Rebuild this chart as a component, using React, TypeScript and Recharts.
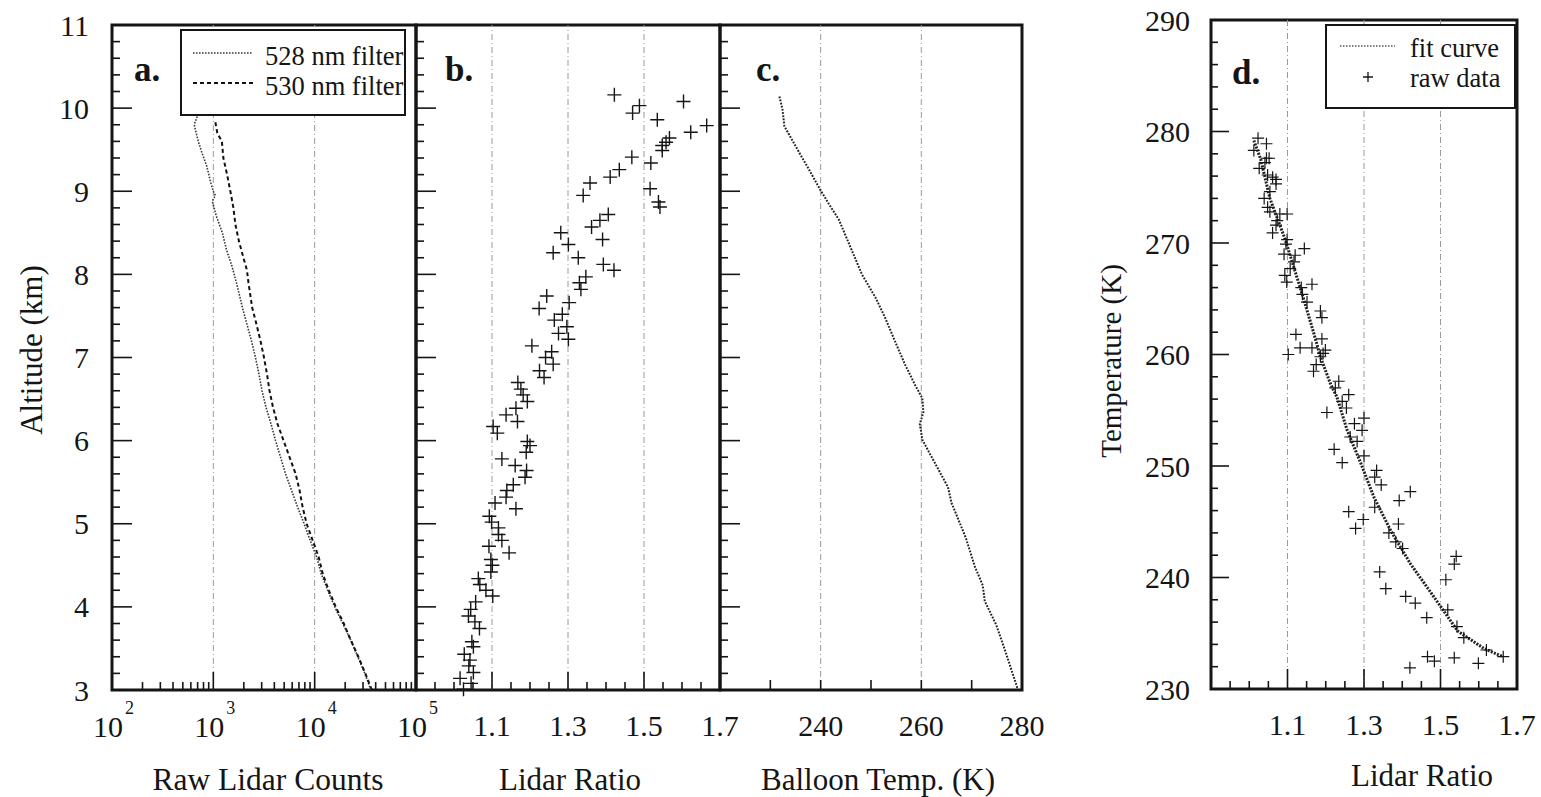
import React from 'react';
import { ScatterChart, Scatter, XAxis, YAxis, ReferenceLine, ReferenceArea, Legend } from 'recharts';

const W = 1541;
const H = 797;
const FONT = '"Liberation Serif", "DejaVu Serif", "Times New Roman", serif';
const INK = '#151515';

// ---------- Panel a: raw lidar counts vs altitude ----------
const alt528 = [9.9, 9.8, 9.6, 9.45, 9.3, 9.1, 9.0, 8.95, 8.88, 8.7, 8.5, 8.3, 8.1, 7.9, 7.6, 7.4, 7.2, 7.0, 6.8, 6.6, 6.4, 6.2, 6.0, 5.8, 5.6, 5.4, 5.2, 5.0, 4.8, 4.6, 4.4, 4.2, 4.0, 3.8, 3.6, 3.4, 3.2, 3.0];
const counts528 = [694, 648, 710, 778, 862, 945, 1000, 1047, 977, 1071, 1228, 1345, 1525, 1690, 1937, 2146, 2378, 2605, 2822, 3022, 3310, 3710, 4112, 4607, 5163, 5920, 6787, 7870, 9025, 10466, 11600, 13453, 15780, 18932, 22720, 26660, 31260, 35850];
const alt530 = [9.83, 9.7, 9.6, 9.4, 9.2, 9.0, 8.8, 8.6, 8.4, 8.2, 8.05, 7.9, 7.6, 7.4, 7.2, 7.0, 6.8, 6.6, 6.4, 6.2, 6.0, 5.8, 5.6, 5.4, 5.2, 5.0, 4.8, 4.6, 4.4, 4.2, 4.0, 3.8, 3.6, 3.4, 3.2, 3.0];
const counts530 = [1047, 1095, 1214, 1256, 1367, 1473, 1578, 1651, 1788, 1982, 2146, 2221, 2417, 2665, 2920, 3162, 3386, 3585, 3882, 4302, 4933, 5655, 6485, 7104, 7606, 8334, 9555, 10955, 12004, 13760, 16143, 19373, 22720, 26960, 31620, 36680];
const legendA = ['528 nm filter', '530 nm filter'];

// ---------- Panel b: lidar ratio vs altitude ----------
const ratioB = [1.422, 1.470, 1.488, 1.604, 1.535, 1.665, 1.623, 1.567, 1.558, 1.548, 1.548, 1.468, 1.518, 1.435, 1.411, 1.358, 1.340, 1.516, 1.538, 1.542, 1.406, 1.384, 1.362, 1.391, 1.281, 1.301, 1.261, 1.327, 1.393, 1.421, 1.347, 1.330, 1.334, 1.244, 1.303, 1.224, 1.285, 1.264, 1.297, 1.275, 1.301, 1.205, 1.257, 1.241, 1.261, 1.225, 1.237, 1.168, 1.176, 1.182, 1.193, 1.163,
  1.137, 1.167, 1.103, 1.114, 1.193, 1.200, 1.190, 1.126, 1.161, 1.191, 1.187, 1.156, 1.139, 1.137, 1.108, 1.163, 1.093, 1.099, 1.117, 1.117, 1.126, 1.092, 1.145, 1.097, 1.101, 1.097, 1.064, 1.068, 1.084, 1.102, 1.057, 1.044, 1.038, 1.055, 1.067, 1.047, 1.051, 1.027, 1.042, 1.039, 1.051, 1.016, 1.045, 1.025];
const altB = [10.16, 9.94, 10.03, 10.08, 9.86, 9.79, 9.71, 9.64, 9.59, 9.55, 9.49, 9.41, 9.34, 9.26, 9.17, 9.10, 8.95, 9.03, 8.87, 8.81, 8.72, 8.65, 8.57, 8.42, 8.50, 8.36, 8.26, 8.20, 8.12, 8.05, 7.97, 7.90, 7.82, 7.74, 7.66, 7.59, 7.52, 7.45, 7.37, 7.29, 7.22, 7.14, 7.07, 7.00, 6.92, 6.84, 6.76, 6.70, 6.62, 6.55, 6.47, 6.39,
  6.31, 6.23, 6.17, 6.09, 5.99, 5.94, 5.86, 5.78, 5.70, 5.64, 5.56, 5.47, 5.40, 5.32, 5.25, 5.18, 5.09, 5.02, 4.95, 4.87, 4.80, 4.73, 4.65, 4.57, 4.50, 4.42, 4.34, 4.27, 4.20, 4.13, 4.06, 3.97, 3.89, 3.82, 3.74, 3.58, 3.52, 3.43, 3.36, 3.29, 3.21, 3.14, 3.08, 3.01];

// ---------- Panel c: balloon temperature vs altitude ----------
const tempC = [231.8, 232.4, 232.8, 233.75, 235.7, 237.7, 239.7, 241.6, 243.6, 246.25, 248.2, 250.9, 252.8, 254.8, 256.8, 258.75, 260.2, 260.4, 259.7, 260.2, 262.7, 265.3, 266.0, 267.3, 268.9, 270.6, 272.2, 272.6, 274.9, 276.5, 277.8, 279.1];
const altC = [10.14, 9.99, 9.78, 9.68, 9.47, 9.26, 9.04, 8.85, 8.66, 8.28, 8.00, 7.72, 7.48, 7.19, 6.91, 6.67, 6.51, 6.34, 6.20, 6.01, 5.73, 5.44, 5.25, 5.06, 4.82, 4.49, 4.26, 4.07, 3.78, 3.50, 3.26, 3.02];

// ---------- Panel d: temperature vs lidar ratio ----------
const ratioD = [1.023, 1.012, 1.045, 1.045, 1.041, 1.052, 1.026, 1.048, 1.061, 1.070, 1.070, 1.054, 1.039, 1.048, 1.054, 1.099, 1.080, 1.073, 1.070, 1.061, 1.099, 1.096, 1.144, 1.091, 1.120, 1.117, 1.107, 1.093, 1.098, 1.164, 1.136, 1.139, 1.151, 1.186, 1.190, 1.122, 1.133, 1.102, 1.164, 1.190, 1.199, 1.193, 1.186, 1.175, 1.168, 1.234, 1.225, 1.260,
  1.243, 1.254, 1.203, 1.275, 1.300, 1.295, 1.264, 1.282, 1.222, 1.300, 1.243, 1.333, 1.328, 1.345, 1.421, 1.392, 1.328, 1.260, 1.298, 1.278, 1.390, 1.365, 1.383, 1.401, 1.541, 1.536, 1.341, 1.514, 1.357, 1.409, 1.434, 1.464, 1.519, 1.543, 1.561, 1.620, 1.664, 1.466, 1.484, 1.536, 1.599, 1.420];
const tempD = [279.4, 278.3, 278.9, 277.6, 277.2, 277.6, 276.7, 276.1, 275.9, 275.3, 275.7, 274.6, 274.0, 273.2, 272.8, 272.6, 272.6, 272.0, 271.6, 270.9, 270.3, 269.9, 269.5, 269.0, 268.9, 268.3, 267.7, 267.1, 266.5, 266.3, 266.0, 265.4, 264.7, 263.9, 263.3, 261.8, 260.6, 260.0, 260.6, 261.4, 260.4, 260.1, 259.8, 259.1, 258.5, 257.6, 257.0, 256.4,
  255.8, 255.2, 254.8, 253.8, 254.3, 253.2, 252.6, 252.2, 251.5, 250.9, 250.3, 249.6, 249.0, 248.3, 247.7, 246.9, 246.3, 245.9, 245.2, 244.4, 244.8, 244.0, 243.2, 242.6, 241.9, 241.2, 240.5, 239.8, 239.0, 238.3, 237.7, 236.4, 237.1, 235.6, 234.6, 233.5, 232.9, 232.9, 232.5, 232.8, 232.3, 231.9];
const fitRatio = [1.012, 1.03, 1.054, 1.093, 1.115, 1.142, 1.168, 1.186, 1.212, 1.229, 1.256, 1.291, 1.326, 1.370, 1.422, 1.484, 1.545, 1.615, 1.664];
const fitTemp = [279.2, 277.5, 274.0, 270.4, 268.0, 265.0, 262.0, 259.8, 257.4, 256.2, 253.2, 250.3, 247.2, 244.2, 241.2, 238.2, 235.2, 233.6, 232.9];
const legendD = ['fit curve', 'raw data'];

// ---------- Ticks ----------
const altTicks = Array.from({ length: 41 }, (_, i) => Math.round((3 + i * 0.2) * 10) / 10);
const altMajor = [3, 4, 5, 6, 7, 8, 9, 10, 11];
const countTicks: number[] = [];
[100, 1000, 10000].forEach((d) => [1, 2, 3, 4, 5, 6, 7, 8, 9].forEach((m) => countTicks.push(m * d)));
countTicks.push(100000);
const countMajor = [1000, 10000];
const countLabels = [100, 1000, 10000, 100000];
const ratioTicks = Array.from({ length: 17 }, (_, i) => Math.round((0.9 + i * 0.05) * 100) / 100);
const ratioMajor = [1.1, 1.3, 1.5];
const ratioLabels = [1.1, 1.3, 1.5, 1.7];
const tempCTicks = [220, 230, 240, 250, 260, 270, 280];
const tempCLabels = [240, 260, 280];
const tempDTicks = Array.from({ length: 31 }, (_, i) => 230 + i * 2);
const tempDMajor = [230, 240, 250, 260, 270, 280, 290];

const zip = (xs: number[], ys: number[]) => xs.map((x, i) => ({ x, y: ys[i] }));
const dataA528 = zip(counts528, alt528);
const dataA530 = zip(counts530, alt530);
const dataB = zip(ratioB, altB);
const dataC = zip(tempC, altC);
const dataD = zip(ratioD, tempD);
const dataFit = zip(fitRatio, fitTemp);

const has = (arr: number[], v: number) => arr.some((a) => Math.abs(a - v) < 1e-6);

const serif: React.CSSProperties = { fontFamily: FONT };
const tickText = { fontSize: 30, fill: INK, style: serif };

function bottomTick(majors: number[], labels: number[], majorLen: number, minorLen: number, render: (v: number, x: number, y: number) => React.ReactNode) {
  return (p: any) => {
    const { x, y, payload } = p;
    const v = payload.value;
    const len = has(majors, v) ? majorLen : minorLen;
    return (
      <g>
        <line x1={x} y1={y} x2={x} y2={y - len} stroke={INK} strokeWidth={1.6} />
        {has(labels, v) ? render(v, x, y) : null}
      </g>
    );
  };
}

function leftTick(majors: number[], labels: number[], majorLen: number, minorLen: number, gap: number) {
  return (p: any) => {
    const { x, y, payload } = p;
    const v = payload.value;
    const len = has(majors, v) ? majorLen : minorLen;
    return (
      <g>
        <line x1={x} y1={y} x2={x + len} y2={y} stroke={INK} strokeWidth={1.6} />
        {has(labels, v) ? (
          <text x={x - gap} y={y} textAnchor="end" dominantBaseline="central" {...tickText}>{String(v)}</text>
        ) : null}
      </g>
    );
  };
}

const linLabel = (v: number, x: number, y: number) => (
  <text x={x} y={y + 46} textAnchor="middle" {...tickText}>{v % 1 === 0 ? String(v) : v.toFixed(1)}</text>
);
const logLabel = (v: number, x: number, y: number) => (
  <g>
    <text x={x + 11} y={y + 47} textAnchor="end" {...tickText}>10</text>
    <text x={x + 13} y={y + 24} fontSize={18} fill={INK} style={serif}>{String(Math.round(Math.log10(v)))}</text>
  </g>
);

const NoDot = () => <g />;
const Plus = (s: number, w: number) => (p: any) => {
  const { cx, cy } = p;
  return <path d={`M${cx - s},${cy}H${cx + s}M${cx},${cy - s}V${cy + s}`} stroke={INK} strokeWidth={w} fill="none" />;
};

const gridStyle = { stroke: '#9a9a9a', strokeWidth: 1, strokeDasharray: '6 3 1 3' };
const frameStyle = { fill: 'none', stroke: INK, strokeWidth: 3 };

const style528 = { stroke: '#3a3a3a', strokeWidth: 1.6, strokeDasharray: '1.6 1.4' };
const style530 = { stroke: '#111', strokeWidth: 2, strokeDasharray: '4 3' };
const styleFit = { stroke: '#222', strokeWidth: 3, strokeDasharray: '2 1.3' };

const legendText = { fontSize: 26.5, fill: INK, style: serif };

const LegendA = () => (
  <svg width={227} height={88} style={{ display: 'block' }}>
    <rect x={1} y={1} width={224} height={85} fill="#fff" stroke={INK} strokeWidth={2} />
    <line x1={13} y1={24} x2={73} y2={24} {...style528} />
    <text x={85} y={36} {...legendText}>{legendA[0]}</text>
    <line x1={13} y1={54} x2={73} y2={54} {...style530} />
    <text x={85} y={66} {...legendText}>{legendA[1]}</text>
  </svg>
);

const LegendD = () => (
  <svg width={192} height={86} style={{ display: 'block' }}>
    <rect x={1} y={1} width={189} height={83} fill="#fff" stroke={INK} strokeWidth={2} />
    <line x1={15} y1={22} x2={70} y2={22} stroke="#555" strokeWidth={1.4} strokeDasharray="1.5 1.5" />
    <text x={85} y={33} {...legendText}>{legendD[0]}</text>
    <path d="M38,53H48M43,48V58" stroke={INK} strokeWidth={1.3} />
    <text x={85} y={63} {...legendText}>{legendD[1]}</text>
  </svg>
);

const layer: React.CSSProperties = { position: 'absolute', left: 0, top: 0 };

export default function App() {
  return (
    <div style={{ position: 'absolute', left: 0, top: 0, width: W, height: H, background: '#fff', overflow: 'hidden', fontFamily: FONT }}>
      {/* Panel a */}
      <div style={layer}>
        <ScatterChart width={W} height={H} margin={{ top: 25, left: 52, right: 1125, bottom: 77 }}>
          <XAxis type="number" dataKey="x" scale="log" domain={[100, 100000]} allowDataOverflow ticks={countTicks} interval={0}
            tickLine={false} axisLine={false} tickSize={0} tickMargin={0} height={30}
            tick={bottomTick(countMajor, countLabels, 18, 8, logLabel)} />
          <YAxis type="number" dataKey="y" domain={[3, 11]} ticks={altTicks} interval={0}
            tickLine={false} axisLine={false} tickSize={0} tickMargin={0} width={60}
            tick={leftTick(altMajor, altMajor, 20, 8, 23)} />
          <ReferenceLine x={1000} {...gridStyle} />
          <ReferenceLine x={10000} {...gridStyle} />
          <ReferenceArea x1={100} x2={100000} y1={3} y2={11} {...frameStyle} />
          <Scatter data={dataA528} line={style528} lineType="joint" shape={NoDot} isAnimationActive={false} fill="#333" />
          <Scatter data={dataA530} line={style530} lineType="joint" shape={NoDot} isAnimationActive={false} fill="#111" />
          <Legend content={LegendA} layout="horizontal" verticalAlign="middle" align="center"
            wrapperStyle={{ left: 180, top: 29, width: 227, height: 88 }} />
        </ScatterChart>
      </div>

      {/* Panel b */}
      <div style={layer}>
        <ScatterChart width={W} height={H} margin={{ top: 25, left: 356, right: 821, bottom: 77 }}>
          <XAxis type="number" dataKey="x" domain={[0.9, 1.7]} allowDataOverflow ticks={ratioTicks} interval={0}
            tickLine={false} axisLine={false} tickSize={0} tickMargin={0} height={30}
            tick={bottomTick(ratioMajor, ratioLabels, 18, 8, linLabel)} />
          <YAxis type="number" dataKey="y" domain={[3, 11]} ticks={altTicks} interval={0}
            tickLine={false} axisLine={false} tickSize={0} tickMargin={0} width={60}
            tick={leftTick(altMajor, [], 20, 8, 23)} />
          {ratioMajor.map((r) => <ReferenceLine key={r} x={r} {...gridStyle} />)}
          <ReferenceArea x1={0.9} x2={1.7} y1={3} y2={11} {...frameStyle} />
          <Scatter data={dataB} shape={Plus(7, 1.4)} isAnimationActive={false} fill={INK} />
        </ScatterChart>
      </div>

      {/* Panel c */}
      <div style={layer}>
        <ScatterChart width={W} height={H} margin={{ top: 25, left: 660, right: 519, bottom: 77 }}>
          <XAxis type="number" dataKey="x" domain={[220, 280]} allowDataOverflow ticks={tempCTicks} interval={0}
            tickLine={false} axisLine={false} tickSize={0} tickMargin={0} height={30}
            tick={bottomTick([], tempCLabels, 10, 10, linLabel)} />
          <YAxis type="number" dataKey="y" domain={[3, 11]} ticks={altTicks} interval={0}
            tickLine={false} axisLine={false} tickSize={0} tickMargin={0} width={60}
            tick={leftTick(altMajor, [], 20, 8, 23)} />
          <ReferenceLine x={240} {...gridStyle} />
          <ReferenceLine x={260} {...gridStyle} />
          <ReferenceArea x1={220} x2={280} y1={3} y2={11} {...frameStyle} />
          <Scatter data={dataC} line={{ stroke: '#222', strokeWidth: 2, strokeDasharray: '1.8 1.4' }} lineType="joint" shape={NoDot} isAnimationActive={false} fill="#222" />
        </ScatterChart>
      </div>

      {/* Panel d */}
      <div style={layer}>
        <ScatterChart width={W} height={H} margin={{ top: 20, left: 1151, right: 24, bottom: 78 }}>
          <XAxis type="number" dataKey="x" domain={[0.9, 1.7]} allowDataOverflow ticks={ratioTicks} interval={0}
            tickLine={false} axisLine={false} tickSize={0} tickMargin={0} height={30}
            tick={bottomTick(ratioMajor, ratioLabels, 20, 8, linLabel)} />
          <YAxis type="number" dataKey="y" domain={[230, 290]} ticks={tempDTicks} interval={0}
            tickLine={false} axisLine={false} tickSize={0} tickMargin={0} width={60}
            tick={leftTick(tempDMajor, tempDMajor, 18, 7, 21)} />
          {ratioMajor.map((r) => <ReferenceLine key={r} x={r} {...gridStyle} />)}
          <ReferenceArea x1={0.9} x2={1.7} y1={230} y2={290} {...frameStyle} />
          <Scatter data={dataFit} line={styleFit} lineType="joint" shape={NoDot} isAnimationActive={false} fill="#222" />
          <Scatter data={dataD} shape={Plus(6, 1.2)} isAnimationActive={false} fill={INK} />
          <Legend content={LegendD} layout="horizontal" verticalAlign="middle" align="center"
            wrapperStyle={{ left: 1325, top: 24, width: 192, height: 86 }} />
        </ScatterChart>
      </div>

      {/* Titles and panel letters */}
      <svg width={W} height={H} style={{ ...layer, pointerEvents: 'none' }}>
        <g fill={INK} style={serif}>
          <text x={31} y={350} fontSize={31} textAnchor="middle" dominantBaseline="central" transform="rotate(-90 31 350)" style={serif}>Altitude (km)</text>
          <text x={268} y={790} fontSize={31.5} textAnchor="middle" style={serif}>Raw Lidar Counts</text>
          <text x={570} y={790} fontSize={31} textAnchor="middle" style={serif}>Lidar Ratio</text>
          <text x={878} y={790} fontSize={31} textAnchor="middle" style={serif}>Balloon Temp. (K)</text>
          <text x={1111} y={361} fontSize={29} textAnchor="middle" dominantBaseline="central" transform="rotate(-90 1111 361)" style={serif}>Temperature (K)</text>
          <text x={1422} y={786} fontSize={31} textAnchor="middle" style={serif}>Lidar Ratio</text>
          <text x={134} y={81} fontSize={35} fontWeight="bold" style={serif}>a.</text>
          <text x={445} y={81} fontSize={35} fontWeight="bold" style={serif}>b.</text>
          <text x={756} y={81} fontSize={35} fontWeight="bold" style={serif}>c.</text>
          <text x={1232} y={84} fontSize={35} fontWeight="bold" style={serif}>d.</text>
        </g>
      </svg>
    </div>
  );
}
